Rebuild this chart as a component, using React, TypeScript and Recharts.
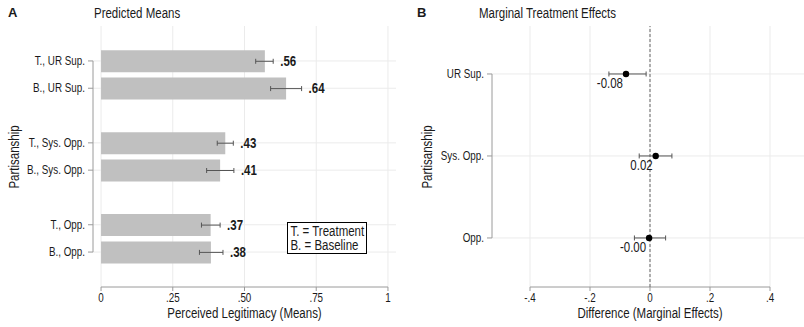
import React from 'react';
import {
  ComposedChart, Bar, Scatter, XAxis, YAxis, CartesianGrid, ErrorBar, ReferenceLine,
} from 'recharts';

// Panel A: predicted means (bar length, 95% CI, printed label)
const meanRows = ['T., UR Sup.', 'B., UR Sup.', 'T., Sys. Opp.', 'B., Sys. Opp.', 'T., Opp.', 'B., Opp.'];
const meanPos = [0, 1, 3, 4, 6, 7];
const means = [0.571, 0.645, 0.433, 0.415, 0.382, 0.383];
const meanLo = [0.539, 0.591, 0.405, 0.368, 0.35, 0.343];
const meanHi = [0.6, 0.699, 0.461, 0.463, 0.415, 0.425];
const meanLabels = ['.56', '.64', '.43', '.41', '.37', '.38'];
const meanTicks = [0, 0.25, 0.5, 0.75, 1];
const meanTickLabels = ['0', '.25', '.50', '.75', '1'];

// Panel B: marginal treatment effects
const effRows = ['UR Sup.', 'Sys. Opp.', 'Opp.'];
const effPos = [0, 1, 2];
const effects = [-0.08, 0.019, -0.003];
const effLo = [-0.137, -0.036, -0.052];
const effHi = [-0.013, 0.073, 0.052];
const effTicks = [-0.4, -0.2, 0, 0.2, 0.4];
const effTickLabels = ['-.4', '-.2', '0', '.2', '.4'];

const meanData = meanRows.map((name, i) => ({
  name,
  pos: meanPos[i],
  mean: means[i],
  hi: meanHi[i],
  err: [means[i] - meanLo[i], meanHi[i] - means[i]],
  label: meanLabels[i],
}));

const effData = effRows.map((name, i) => ({
  name,
  pos: effPos[i],
  eff: effects[i],
  err: [effects[i] - effLo[i], effHi[i] - effects[i]],
}));

// Stata's narrow sans: Arial metrics squeezed horizontally
const FONT = '"Liberation Sans", Arial, sans-serif';
const SQ = 0.82;
const AXIS = '#9a9a9a';
const GRID = '#ebebeb';
const INK = '#1a1a1a';

const meanX = [-0.028, 1.028];
const meanY = [-1.28, 8.28];
const effX = [-0.5267, 0.5133];
const effY = [-0.585, 2.598];

// squeezed svg text
const NText = ({ x, y, size = 12, anchor = 'start', bold = false, dy = 0, children }: any) => (
  <text
    transform={`translate(${x},${y}) scale(${SQ},1)`}
    dy={dy}
    textAnchor={anchor}
    fontSize={size}
    fontWeight={bold ? 'bold' : 'normal'}
    fontFamily={FONT}
    fill={INK}
  >
    {children}
  </text>
);

const makeYTick = (labels: string[], pos: number[]) => (props: any) => {
  const { x, y, payload } = props;
  return <NText x={x} y={y} dy={4} anchor="end">{labels[pos.indexOf(payload.value)]}</NText>;
};

const makeXTick = (labels: string[], ticks: number[]) => (props: any) => {
  const { x, y, payload } = props;
  return <NText x={x} y={y} dy={9} anchor="middle">{labels[ticks.indexOf(payload.value)]}</NText>;
};

const text = (left: number, top: number, s: string, extra: React.CSSProperties = {}, origin = 'left center') => (
  <div
    style={{
      position: 'absolute', left, top, fontFamily: FONT, fontSize: 14, color: INK,
      lineHeight: '16px', whiteSpace: 'nowrap', transform: `scaleX(${SQ})`, transformOrigin: origin, ...extra,
    }}
  >
    {s}
  </div>
);

const MeanLabel = (props: any) => {
  const { cx, cy, payload } = props;
  return <NText x={cx + 7} y={cy} dy={5} size={14} bold>{payload.label}</NText>;
};

const EffDot = (props: any) => {
  const { cx, cy, payload } = props;
  return (
    <g>
      <circle cx={cx} cy={cy} r={3.2} fill="#000" />
      <NText x={cx - 3} y={cy + 9} dy={5} size={14} anchor="end">{payload.eff.toFixed(2)}</NText>
    </g>
  );
};

export default function App() {
  return (
    <div style={{ position: 'absolute', left: 0, top: 0, width: 804, height: 327, background: '#fff' }}>
      {/* Panel A */}
      <div style={{ position: 'absolute', left: 0, top: 0 }}>
        <ComposedChart
          width={402}
          height={327}
          data={meanData}
          layout="vertical"
          margin={{ top: 26, right: 6, bottom: 0, left: 13 }}
        >
          <CartesianGrid stroke={GRID} horizontalValues={meanPos} verticalValues={meanTicks} />
          <XAxis
            type="number"
            domain={meanX}
            ticks={meanTicks}
            axisLine={false}
            tickLine={{ stroke: AXIS }}
            tickSize={4}
            tickMargin={2}
            height={40}
            tick={makeXTick(meanTickLabels, meanTicks)}
          />
          <YAxis
            type="number"
            dataKey="pos"
            domain={meanY}
            ticks={meanPos}
            axisLine={false}
            tickLine={{ stroke: AXIS }}
            tickSize={5}
            tickMargin={3}
            width={80}
            tick={makeYTick(meanRows, meanPos)}
          />
          <ReferenceLine
            segment={[{ x: meanX[0], y: meanPos[0] }, { x: meanX[0], y: meanPos[meanPos.length - 1] }]}
            stroke={AXIS}
            ifOverflow="visible"
          />
          <ReferenceLine
            segment={[{ x: meanTicks[0], y: meanY[1] }, { x: meanTicks[meanTicks.length - 1], y: meanY[1] }]}
            stroke={AXIS}
            ifOverflow="visible"
          />
          <Bar dataKey="mean" fill="#c0c0c0" barSize={22} isAnimationActive={false}>
            <ErrorBar dataKey="err" direction="x" width={2.5} stroke="#555" strokeWidth={1} />
          </Bar>
          <Scatter dataKey="hi" shape={MeanLabel} isAnimationActive={false} />
        </ComposedChart>
      </div>

      {/* Panel B */}
      <div style={{ position: 'absolute', left: 402, top: 0 }}>
        <ComposedChart
          width={402}
          height={327}
          data={effData}
          layout="vertical"
          margin={{ top: 26, right: 0, bottom: 0, left: 10 }}
        >
          <CartesianGrid stroke={GRID} horizontalValues={effPos} verticalValues={effTicks} />
          <XAxis
            type="number"
            domain={effX}
            ticks={effTicks}
            axisLine={false}
            tickLine={{ stroke: AXIS }}
            tickSize={4}
            tickMargin={2}
            height={40}
            tick={makeXTick(effTickLabels, effTicks)}
          />
          <YAxis
            type="number"
            dataKey="pos"
            domain={effY}
            ticks={effPos}
            axisLine={false}
            tickLine={{ stroke: AXIS }}
            tickSize={5}
            tickMargin={3}
            width={80}
            tick={makeYTick(effRows, effPos)}
          />
          <ReferenceLine
            segment={[{ x: effX[0], y: effPos[0] }, { x: effX[0], y: effPos[effPos.length - 1] }]}
            stroke={AXIS}
            ifOverflow="visible"
          />
          <ReferenceLine
            segment={[{ x: effTicks[0], y: effY[1] }, { x: effTicks[effTicks.length - 1], y: effY[1] }]}
            stroke={AXIS}
            ifOverflow="visible"
          />
          <ReferenceLine x={0} stroke="#666" strokeDasharray="3 2" />
          <Scatter dataKey="eff" shape={EffDot} isAnimationActive={false}>
            <ErrorBar dataKey="err" direction="x" width={2.5} stroke="#555" strokeWidth={1} />
          </Scatter>
        </ComposedChart>
      </div>

      {/* titles */}
      {text(8, 5, 'A', { fontWeight: 'bold', fontSize: 13, transform: 'none' })}
      {text(94, 5, 'Predicted Means')}
      {text(417, 5, 'B', { fontWeight: 'bold', fontSize: 13, transform: 'none' })}
      {text(479, 5, 'Marginal Treatment Effects')}

      {/* axis titles */}
      {text(101, 305, 'Perceived Legitimacy (Means)', { width: 287, textAlign: 'center' }, 'center center')}
      {text(530, 305, 'Difference (Marginal Effects)', { width: 240, textAlign: 'center' }, 'center center')}
      {text(14, 157, 'Partisanship', { transform: `translate(-50%, -50%) rotate(-90deg) scaleX(${SQ})`, transformOrigin: 'center center' }, 'center center')}
      {text(427, 157, 'Partisanship', { transform: `translate(-50%, -50%) rotate(-90deg) scaleX(${SQ})`, transformOrigin: 'center center' }, 'center center')}

      {/* key box */}
      <div
        style={{
          position: 'absolute', left: 287, top: 222, width: 80, height: 32, border: '1px solid #000',
          background: '#fff', boxSizing: 'border-box', overflow: 'hidden',
        }}
      >
        <div style={{
          fontFamily: FONT, fontSize: 14, color: INK, lineHeight: '14px', whiteSpace: 'nowrap',
          transform: `scaleX(${SQ})`, transformOrigin: 'left top', padding: '1px 0 0 3px',
        }}
        >
          <div>T. = Treatment</div>
          <div>B. = Baseline</div>
        </div>
      </div>
    </div>
  );
}
